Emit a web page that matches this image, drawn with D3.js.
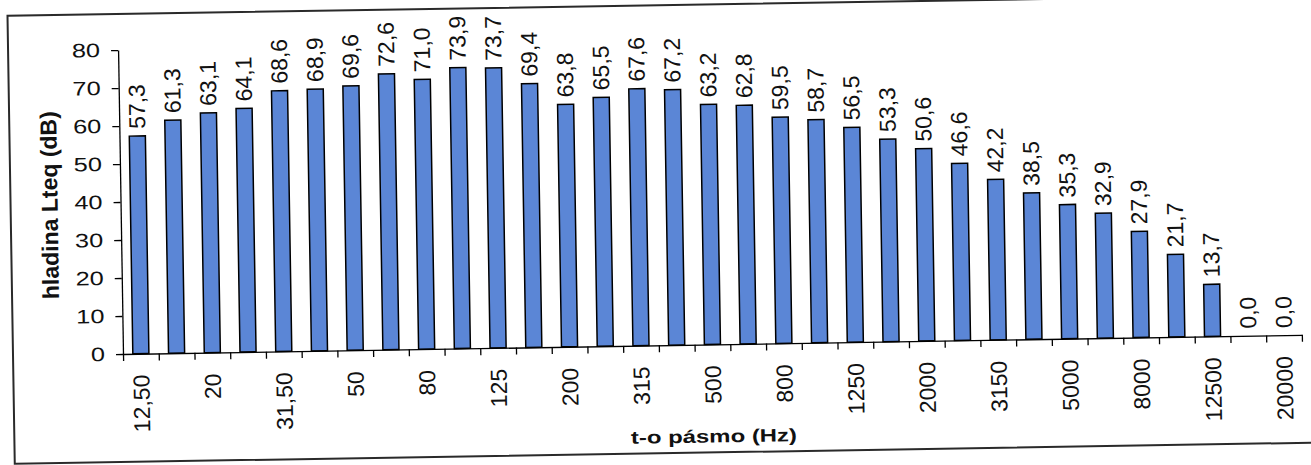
<!DOCTYPE html>
<html>
<head>
<meta charset="utf-8">
<script src="https://cdn.jsdelivr.net/npm/d3@7"></script>
<style>
  body { margin: 0; background: #fff; }
  svg { display: block; font-family: "Liberation Sans", Arial, sans-serif; }
  .axis path, .axis line { stroke: #000; stroke-width: 1.3; }
</style>
</head>
<body>
<div id="main"></div>
<script>
// tercove pasmo (Hz) a hladina Lteq (dB)
const bands = ["12,50", "16", "20", "25", "31,50", "40", "50", "63", "80", "100",
  "125", "160", "200", "250", "315", "400", "500", "630", "800", "1000",
  "1250", "1600", "2000", "2500", "3150", "4000", "5000", "6300", "8000", "10000",
  "12500", "16000", "20000"];
const levels = [57.3, 61.3, 63.1, 64.1, 68.6, 68.9, 69.6, 72.6, 71.0, 73.9,
  73.7, 69.4, 63.8, 65.5, 67.6, 67.2, 63.2, 62.8, 59.5, 58.7,
  56.5, 53.3, 50.6, 46.6, 42.2, 38.5, 35.3, 32.9, 27.9, 21.7,
  13.7, 0.0, 0.0];
const yTicks = [0, 10, 20, 30, 40, 50, 60, 70, 80];

const w = 1311;
const h = 465;
const margin = { top: 50, right: 9, bottom: 111, left: 123 };
const x0 = margin.left, x1 = w - margin.right;
const y0 = h - margin.bottom, y1 = margin.top;

const data = bands.map((b, i) => ({ band: b, value: levels[i] }));
const fmt = v => d3.format(".1f")(v).replace(".", ",");

const svg = d3.select("#main").append("svg")
  .attr("width", w)
  .attr("height", h);

// the scan is tilted a little, so everything sits in a rotated group
const g = svg.append("g")
  .attr("transform", "rotate(-0.93," + x0 + "," + y0 + ")");

g.append("rect")
  .attr("x", 13)
  .attr("y", 14)
  .attr("width", 1320)
  .attr("height", 448)
  .attr("fill", "none")
  .attr("stroke", "#2a2a2a")
  .attr("stroke-width", 2);

const xScale = d3.scaleBand()
  .domain(bands)
  .range([x0, x1])
  .paddingInner(0.55)
  .paddingOuter(0.275);

const xEdges = d3.scaleLinear()
  .domain([0, bands.length])
  .range([x0, x1]);

const yScale = d3.scaleLinear()
  .domain([0, 80])
  .range([y0, y1]);

// bars
g.selectAll("rect.bar")
  .data(data.filter(d => d.value > 0))
  .enter()
  .append("rect")
  .attr("class", "bar")
  .attr("x", d => xScale(d.band))
  .attr("y", d => yScale(d.value))
  .attr("width", xScale.bandwidth())
  .attr("height", d => yScale(0) - yScale(d.value))
  .attr("fill", "#5b86d6")
  .attr("stroke", "#000")
  .attr("stroke-width", 1.5);

// value labels
g.selectAll("text.val")
  .data(data)
  .enter()
  .append("text")
  .attr("class", "val")
  .attr("transform", d => "translate(" + (xScale(d.band) + xScale.bandwidth() / 2) + "," + (yScale(d.value) - 7) + ") rotate(-90)")
  .attr("dy", "0.35em")
  .attr("text-anchor", "start")
  .attr("font-size", 23)
  .attr("fill", "#111")
  .text(d => fmt(d.value));

// y axis
const yAxis = g.append("g")
  .attr("class", "axis")
  .attr("transform", "translate(" + x0 + ",0)")
  .call(d3.axisLeft(yScale).tickValues(yTicks).tickSize(7).tickSizeOuter(0));

yAxis.selectAll("text")
  .attr("font-size", 19.5)
  .attr("font-family", "Liberation Sans, Arial, sans-serif")
  .attr("fill", "#111")
  .attr("x", -18 / 1.3)
  .attr("transform", "scale(1.3,1)");

// x axis: tick marks on band edges
g.append("g")
  .attr("class", "axis")
  .attr("transform", "translate(0," + y0 + ")")
  .call(d3.axisBottom(xEdges).tickValues(d3.range(bands.length + 1)).tickSize(7).tickSizeOuter(0).tickFormat(""));

// x axis: labels on every second band
const xLabels = g.append("g")
  .attr("transform", "translate(0," + y0 + ")")
  .call(d3.axisBottom(xScale).tickValues(bands.filter((b, i) => i % 2 === 0)).tickSize(0));

xLabels.select(".domain").remove();
xLabels.selectAll("text")
  .attr("font-size", 23)
  .attr("font-family", "Liberation Sans, Arial, sans-serif")
  .attr("fill", "#111")
  .attr("transform", "rotate(-90)")
  .attr("text-anchor", "end")
  .attr("x", -21)
  .attr("y", 0)
  .attr("dy", "0.35em");

// axis titles
g.append("text")
  .attr("transform", "translate(60," + ((y0 + y1) / 2 + 2) + ") rotate(-90)")
  .attr("text-anchor", "middle")
  .attr("font-size", 23)
  .attr("font-weight", "bold")
  .attr("fill", "#111")
  .text("hladina Lteq (dB)");

g.append("text")
  .attr("transform", "translate(" + ((x0 + x1) / 2) + ",452) scale(1.33,1)")
  .attr("text-anchor", "middle")
  .attr("font-size", 18)
  .attr("font-weight", "bold")
  .attr("fill", "#111")
  .text("t-o pásmo (Hz)");
</script>
</body>
</html>
